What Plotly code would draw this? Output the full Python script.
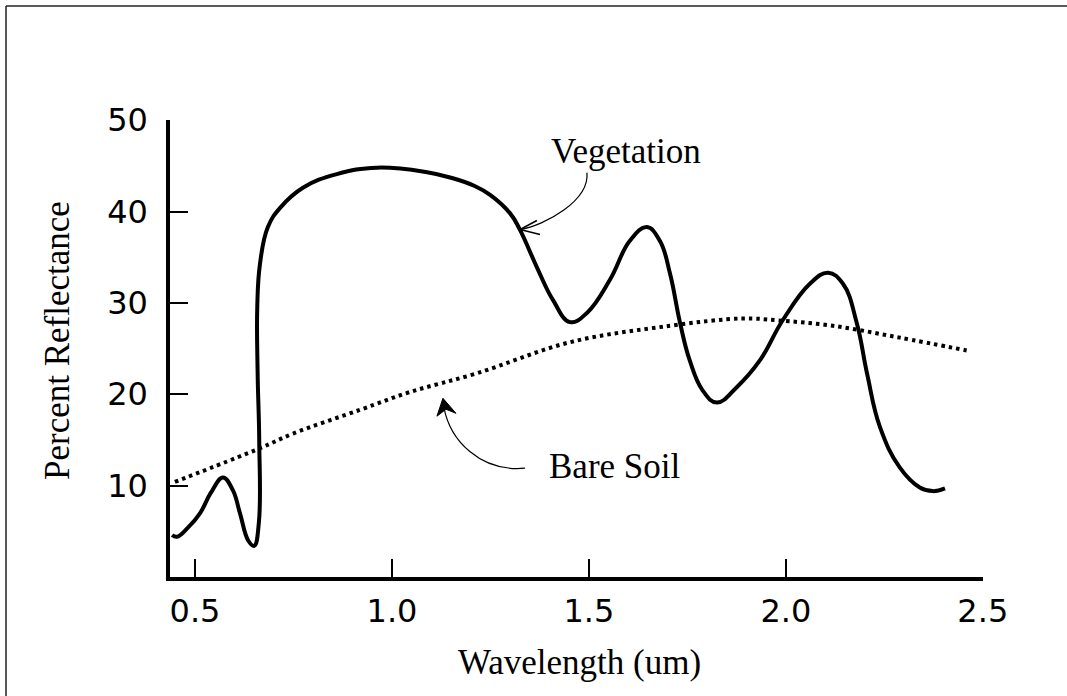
import plotly.graph_objects as go

# Spectral reflectance curves (wavelength in micrometres, reflectance in percent)
veg_wl = [0.442, 0.454, 0.482, 0.513, 0.540, 0.571, 0.596, 0.614, 0.635, 0.650,
          0.662, 0.663, 0.659, 0.658, 0.665, 0.685, 0.716, 0.774, 0.860, 0.962,
          1.089, 1.150, 1.210, 1.250, 1.300, 1.325, 1.368, 1.409, 1.452, 1.495,
          1.553, 1.604, 1.647, 1.680, 1.706, 1.731, 1.756, 1.789, 1.825, 1.876,
          1.934, 1.992, 2.061, 2.107, 2.145, 2.180, 2.206, 2.239, 2.289, 2.340,
          2.373, 2.404]
veg_refl = [4.6, 4.4, 5.4, 7.0, 9.2, 10.9, 9.5, 7.0, 4.0, 3.4,
            5.9, 15.0, 22.3, 29.5, 34.3, 38.3, 40.4, 42.6, 44.1, 44.8,
            44.3, 43.7, 42.8, 41.8, 39.8, 38.0, 33.9, 30.3, 27.9, 28.9,
            32.5, 36.8, 38.3, 36.8, 33.2, 27.9, 23.7, 20.4, 19.1, 20.8,
            23.7, 28.1, 32.1, 33.3, 32.1, 27.8, 22.3, 16.4, 12.0, 9.8,
            9.4, 9.7]

soil_wl = [0.449, 0.665, 0.749, 0.919, 1.046, 1.216, 1.452, 1.706, 1.891, 1.977,
           2.119, 2.289, 2.459]
soil_refl = [10.4, 14.1, 15.7, 18.3, 20.25, 22.3, 25.7, 27.5, 28.3, 28.1,
             27.5, 26.2, 24.8]

x_ticks = [0.5, 1.0, 1.5, 2.0, 2.5]
x_tick_text = ["0.5", "1.0", "1.5", "2.0", "2.5"]
y_ticks = [10, 20, 30, 40, 50]
y_tick_text = ["10", "20", "30", "40", "50"]

SANS = "DejaVu Sans"
SERIF = "Liberation Serif"

fig = go.Figure()
fig.add_trace(go.Scatter(
    x=veg_wl, y=veg_refl, mode="lines", name="Vegetation",
    line=dict(color="black", width=4, shape="spline", smoothing=1.2),
    hoverinfo="skip"))
fig.add_trace(go.Scatter(
    x=soil_wl, y=soil_refl, mode="lines", name="Bare Soil",
    line=dict(color="black", width=4, dash="3.5px,4px", shape="spline", smoothing=1.0),
    hoverinfo="skip"))

# Curved pointer from the "Vegetation" label to its curve (open arrowhead)
fig.add_shape(type="path", xref="x", yref="y",
              path="M 1.495,44.26 C 1.5025,41.20 1.388,38.47 1.325,38.03",
              line=dict(color="black", width=1.2))
fig.add_shape(type="path", xref="x", yref="y",
              path="M 1.368,39.02 L 1.325,38.03 L 1.376,37.49",
              line=dict(color="black", width=1.5))

# Curved pointer from the "Bare Soil" label to its curve (filled arrowhead)
fig.add_shape(type="path", xref="x", yref="y",
              path="M 1.3376,11.91 C 1.2234,11.48 1.1472,14.97 1.1318,18.6",
              line=dict(color="black", width=1.2))
fig.add_shape(type="path", xref="x", yref="y",
              path="M 1.1294,19.56 L 1.1142,17.60 L 1.1371,18.36 L 1.1624,17.92 Z",
              line=dict(color="black", width=1), fillcolor="black")

# Outer frame (top and left edges)
fig.add_shape(type="line", xref="paper", yref="paper",
              x0=-0.2017, y0=1.2495, x1=1.11, y1=1.2495,
              line=dict(color="#222222", width=1.5))
fig.add_shape(type="line", xref="paper", yref="paper",
              x0=-0.2017, y0=1.2495, x1=-0.2017, y1=-0.27,
              line=dict(color="#222222", width=1.5))

fig.add_annotation(x=1.594, y=46.6, xref="x", yref="y", text="Vegetation",
                   showarrow=False, font=dict(family=SERIF, size=35, color="black"),
                   xanchor="center", yanchor="middle")
fig.add_annotation(x=1.567, y=12.1, xref="x", yref="y", text="Bare Soil",
                   showarrow=False, font=dict(family=SERIF, size=35, color="black"),
                   xanchor="center", yanchor="middle")

# Axis titles
fig.add_annotation(x=0.504, y=-0.186, xref="paper", yref="paper",
                   text="Wavelength (um)", showarrow=False,
                   font=dict(family=SERIF, size=35, color="black"),
                   xanchor="center", yanchor="middle")
fig.add_annotation(x=-0.1378, y=0.5186, xref="paper", yref="paper",
                   text="Percent Reflectance", showarrow=False, textangle=-90,
                   font=dict(family=SERIF, size=35, color="black"),
                   xanchor="center", yanchor="middle")

axis_common = dict(
    showgrid=False, zeroline=False, showline=True, linecolor="black", linewidth=3.5,
    ticks="inside", ticklen=18, tickwidth=1.5, tickcolor="black",
    tickfont=dict(family=SANS, size=32, color="black"),
)
fig.update_xaxes(range=[0.4365, 2.5005], tickmode="array", tickvals=x_ticks,
                 ticktext=x_tick_text, ticklabelstandoff=3, **axis_common)
fig.update_yaxes(range=[0, 50.02], tickmode="array", tickvals=y_ticks,
                 ticktext=y_tick_text, ticklabelstandoff=12, **axis_common)

fig.update_layout(
    width=1067, height=696,
    margin=dict(l=170, r=84, t=120, b=119),
    paper_bgcolor="white", plot_bgcolor="white",
    showlegend=False,
)

fig.write_html("out.html")
